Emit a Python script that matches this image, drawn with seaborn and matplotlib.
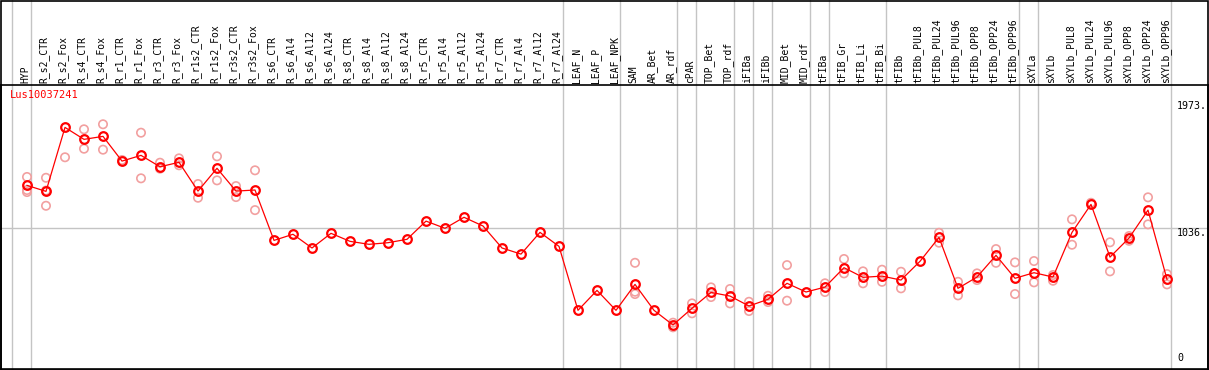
import numpy as np
import pandas as pd
import seaborn as sns
import matplotlib
matplotlib.use("Agg")
import matplotlib.pyplot as plt
import matplotlib.transforms as mtransforms

# --- data ---
gene = "Lus10037241"

samples = [
    "HYP", "R_s2_CTR", "R_s2_Fox", "R_s4_CTR", "R_s4_Fox", "R_r1_CTR", "R_r1_Fox",
    "R_r3_CTR", "R_r3_Fox", "R_r1s2_CTR", "R_r1s2_Fox", "R_r3s2_CTR", "R_r3s2_Fox",
    "R_s6_CTR", "R_s6_Al4", "R_s6_Al12", "R_s6_Al24", "R_s8_CTR", "R_s8_Al4",
    "R_s8_Al12", "R_s8_Al24", "R_r5_CTR", "R_r5_Al4", "R_r5_Al12", "R_r5_Al24",
    "R_r7_CTR", "R_r7_Al4", "R_r7_Al12", "R_r7_Al24", "LEAF_N", "LEAF_P", "LEAF_NPK",
    "SAM", "AR_Bet", "AR_rdf", "cPAR", "TOP_Bet", "TOP_rdf", "iFIBa", "iFIBb",
    "MID_Bet", "MID_rdf", "tFIBa", "tFIB_Gr", "tFIB_Li", "tFIB_Bi", "tFIBb",
    "tFIBb_PUL8", "tFIBb_PUL24", "tFIBb_PUL96", "tFIBb_OPP8", "tFIBb_OPP24",
    "tFIBb_OPP96", "sXYLa", "sXYLb", "sXYLb_PUL8", "sXYLb_PUL24", "sXYLb_PUL96",
    "sXYLb_OPP8", "sXYLb_OPP24", "sXYLb_OPP96",
]

means = [
    1348, 1304, 1775, 1687, 1709, 1527, 1569, 1485, 1518, 1306, 1474, 1306, 1314,
    943, 988, 887, 995, 936, 914, 926, 951, 1085, 1032, 1113, 1049,
    887, 842, 1002, 899, 428, 575, 428,
    619, 428, 320, 443, 560, 533, 460, 509, 627, 563, 599,
    742, 671, 680, 651, 789, 965, 590, 673, 833, 664,
    705, 673, 1002, 1208, 820, 960, 1166, 656,
]

# individual replicates (only the ones visible apart from the mean)
replicates = [
    [1410, 1314, 1299], [1404, 1198, 1310], [1555], [1761, 1618], [1798, 1611],
    [1535], [1736, 1400], [1515, 1471], [1547, 1496], [1358, 1257], [1562, 1385],
    [1343, 1262], [1459, 1166],
    [], [], [], [], [], [], [], [], [], [], [], [],
    [], [], [], [], [], [], [],
    [778, 565, 548], [], [337, 303], [479, 406], [597, 526], [585, 479],
    [491, 423], [535, 489], [761, 499], [], [627, 563],
    [806, 700], [715, 627], [727, 638], [712, 590], [], [999, 926], [638, 538],
    [700, 651], [879, 778], [781, 548],
    [791, 634], [688, 646], [1098, 911], [1220], [929, 715], [975, 940],
    [1260, 1061], [695, 619],
]

# index of the last sample in each group (grey separators)
group_ends = [-1, 0, 28, 31, 34, 35, 37, 38, 39, 41, 42, 45, 52, 53, 60]

y_ticks = [1973, 1036, 0]

# --- long frames for seaborn ---
df_mean = pd.DataFrame({"pos": np.arange(len(samples)), "value": means})
rows = []
for i, reps in enumerate(replicates):
    for v in reps:
        rows.append({"pos": i, "value": v})
df_rep = pd.DataFrame(rows)

W, H = 1209, 370
fig = plt.figure(figsize=(W / 100, H / 100), dpi=100)
top_px, bot_px, left_px, right_px = 85.3, 369.0, 1.0, 1208.0
ax = fig.add_axes([left_px / W, 1 - bot_px / H,
                   (right_px - left_px) / W, (bot_px - top_px) / H])

red = "#ff0000"
pink = "#f2a0a0"
grey = "#c4c4c4"
mono = "DejaVu Sans Mono"

sns.scatterplot(data=df_rep, x="pos", y="value", ax=ax, marker="o",
                facecolor="none", edgecolor=pink, linewidth=1.2, s=36,
                zorder=3, legend=False)
sns.lineplot(data=df_mean, x="pos", y="value", ax=ax, color=red,
             linewidth=0.9, marker="o", markersize=6.2,
             markerfacecolor="none", markeredgecolor=red,
             markeredgewidth=1.6, zorder=4)

ax.set_xlim((left_px - 27) / 19, (right_px - 27) / 19)
ax.set_ylim(-4, 2085)
ax.set_xticks([])
ax.set_yticks([])
ax.set_xlabel("")
ax.set_ylabel("")
for sp in ax.spines.values():
    sp.set_color("black")
    sp.set_linewidth(1.2)

# grey separators run through the header as well
header_top = 1 + top_px / (bot_px - top_px)
for k in group_ends:
    ax.axvline(k + 0.2, ymin=0, ymax=header_top, color=grey, lw=1.0,
               clip_on=False, zorder=1)
ax.axhline(1036, color=grey, lw=1.0, zorder=1)

# sample names in the header
trans_x = mtransforms.blended_transform_factory(ax.transData, ax.transAxes)
for i, name in enumerate(samples):
    ax.text(i - 0.1, 1.009, name, rotation=90, ha="center", va="bottom",
            fontsize=7, family=mono, transform=trans_x, clip_on=False)

# value labels on the right
trans_y = mtransforms.blended_transform_factory(ax.transAxes, ax.transData)
for v in y_ticks:
    ax.text((1177 - left_px) / (right_px - left_px), v if v else 40,
            f"{v}." if v else "0", ha="left", va="top" if v else "bottom",
            fontsize=7.2, family=mono, transform=trans_y)

ax.text(0.007, 0.985, gene, color=red, fontsize=7.5, family=mono,
        ha="left", va="top", transform=ax.transAxes)

# outer frame
fig.patches.append(plt.Rectangle((0.5 / W, 0), 1 - 1.5 / W, 1 - 0.5 / H,
                                 transform=fig.transFigure, fill=False,
                                 edgecolor="black", lw=1.2))

fig.savefig("out.png", dpi=100)
